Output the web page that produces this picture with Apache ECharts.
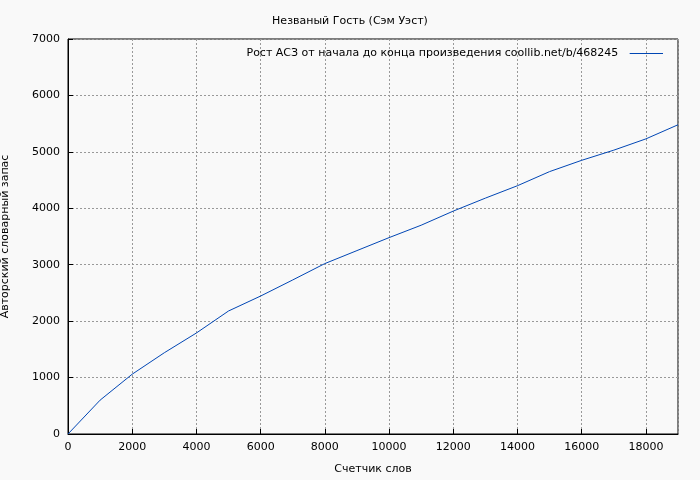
<!DOCTYPE html>
<html>
<head>
<meta charset="utf-8">
<script src="https://cdn.jsdelivr.net/npm/echarts@6/dist/echarts.min.js"></script>
<style>body{margin:0;background:#f9f9f9}#main{width:700px;height:480px}</style>
</head>
<body>
<div id="main"></div>
<script>
// счетчик слов / словарный запас
var words = [0, 1000, 2000, 3000, 4000, 5000, 6000, 7000, 8000, 9000, 10000, 11000, 12000, 13000, 14000, 15000, 16000, 17000, 18000, 19000];
var vocab = [0, 600, 1060, 1440, 1790, 2180, 2445, 2730, 3020, 3250, 3480, 3700, 3950, 4180, 4400, 4650, 4850, 5030, 5230, 5480];
var legendName = 'Рост АСЗ от начала до конца произведения coollib.net/b/468245';

var pts = [];
for (var i = 0; i < words.length; i++) pts.push([words[i], vocab[i]]);

var myChart = echarts.init(document.getElementById('main'));
var font = 'DejaVu Sans';
var option = {
    backgroundColor: '#f9f9f9',
    animation: false,
    title: {
        text: 'Незваный Гость (Сэм Уэст)',
        left: 'center',
        top: 11,
        textStyle: { fontFamily: font, fontSize: 11, fontWeight: 'normal', color: '#000' }
    },
    legend: {
        right: 32,
        top: 43,
        icon: 'path://M0,0H10V0.3H0Z',
        itemWidth: 34,
        itemHeight: 1,
        itemGap: 10,
        align: 'right',
        data: [legendName],
        textStyle: { fontFamily: font, fontSize: 11, color: '#000', padding: [0, 6, 0, 0] }
    },
    grid: {
        left: 68, right: 22, top: 39, bottom: 46,
        containLabel: false, outerBoundsMode: 'none',
        show: true, borderColor: '#000', borderWidth: 1, backgroundColor: 'transparent'
    },
    xAxis: {
        type: 'value',
        min: 0, max: 19000, interval: 2000,
        name: 'Счетчик слов',
        nameLocation: 'middle',
        nameGap: 30,
        nameTextStyle: { fontFamily: font, fontSize: 11, color: '#000' },
        axisLine: { lineStyle: { color: '#000' } },
        axisTick: { inside: true, lineStyle: { color: '#000' } },
        axisLabel: { fontFamily: font, fontSize: 11, color: '#000', showMaxLabel: false, formatter: function (v) { return String(v); } },
        splitLine: { show: true, lineStyle: { color: '#999', type: [2, 2] } }
    },
    yAxis: {
        type: 'value',
        min: 0, max: 7000, interval: 1000,
        name: 'Авторский словарный запас',
        nameLocation: 'middle',
        nameGap: 57,
        nameTextStyle: { fontFamily: font, fontSize: 11, color: '#000' },
        axisLine: { show: true, lineStyle: { color: '#000' } },
        axisTick: { show: true, inside: true, lineStyle: { color: '#000' } },
        axisLabel: { fontFamily: font, fontSize: 11, color: '#000', formatter: function (v) { return String(v); } },
        splitLine: { show: true, lineStyle: { color: '#999', type: [2, 2] } }
    },
    series: [{
        name: legendName,
        type: 'line',
        showSymbol: false,
        lineStyle: { width: 1, color: '#0046b4' },
        itemStyle: { color: '#0046b4' },
        data: pts
    }]
};
myChart.setOption(option);
</script>
</body>
</html>
